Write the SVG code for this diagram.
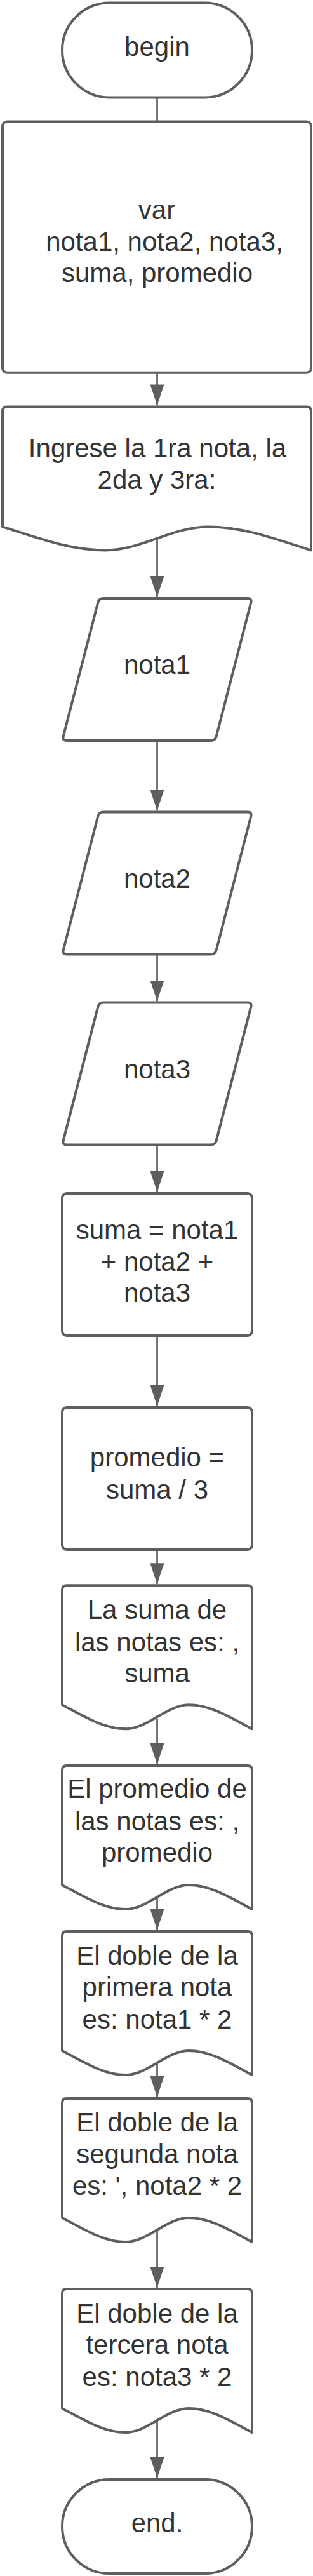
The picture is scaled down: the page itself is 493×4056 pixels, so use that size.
<svg xmlns="http://www.w3.org/2000/svg" width="493" height="4056" viewBox="0 0 493 4056">
<style>
.s{fill:#ffffff;stroke:#5e5e5e;stroke-width:4;stroke-linejoin:round}
.t{font-family:"Liberation Sans",Arial,sans-serif;font-size:42px;fill:#333333;text-anchor:middle}
.c{fill:none;stroke:#5e5e5e;stroke-width:2.7}
</style>
<defs>
<marker id="ah" markerUnits="userSpaceOnUse" markerWidth="33" markerHeight="22" refX="33" refY="11" orient="auto" viewBox="0 0 33 22">
<path d="M0,0 L33,11 L0,22 Z" fill="#5e5e5e"/>
</marker>
<path id="para" d="M163,0 L390,0 Q397,0 395.25,6.78 L340.75,217.22 Q339,224 332,224 L105,224 Q98,224 99.75,217.22 L154.25,6.78 Q156,0 163,0 Z"/>
<path id="doc" d="M0,188 L0,7 Q0,0 7,0 L292,0 Q299,0 299,7 L299,226 C263.1,207 233.2,188 199.3,188 C164.5,188 134.6,226 99.7,226 C65.8,226 35.9,207 0,188 Z"/>
</defs>

<g id="connectors">
<line class="c" x1="247.5" y1="153.5" x2="247.5" y2="191.5"/>
<line class="c" x1="247.5" y1="586.7" x2="247.5" y2="638.4" marker-end="url(#ah)"/>
<line class="c" x1="247.5" y1="847.5" x2="247.5" y2="940" marker-end="url(#ah)"/>
<line class="c" x1="247.5" y1="1166" x2="247.5" y2="1276.5" marker-end="url(#ah)"/>
<line class="c" x1="247.5" y1="1502" x2="247.5" y2="1576.5" marker-end="url(#ah)"/>
<line class="c" x1="247.5" y1="1802" x2="247.5" y2="1877" marker-end="url(#ah)"/>
<line class="c" x1="247.5" y1="2103" x2="247.5" y2="2214" marker-end="url(#ah)"/>
<line class="c" x1="247.5" y1="2440" x2="247.5" y2="2494.3" marker-end="url(#ah)"/>
<line class="c" x1="247.5" y1="2706" x2="247.5" y2="2778" marker-end="url(#ah)"/>
<line class="c" x1="247.5" y1="2988" x2="247.5" y2="3039" marker-end="url(#ah)"/>
<line class="c" x1="247.5" y1="3249" x2="247.5" y2="3302" marker-end="url(#ah)"/>
<line class="c" x1="247.5" y1="3512" x2="247.5" y2="3602" marker-end="url(#ah)"/>
<line class="c" x1="247.5" y1="3812" x2="247.5" y2="3902" marker-end="url(#ah)"/>
</g>

<g id="begin">
<rect class="s" x="98" y="4.5" width="299" height="149" rx="74.5" ry="74.5"/>
<text class="t" x="247.5" y="88">begin</text>
</g>

<g id="var">
<rect class="s" x="4" y="191.5" width="486" height="395.2" rx="7" ry="7"/>
<text class="t" x="247" y="345">var</text>
<text class="t" x="259" y="395">nota1, nota2, nota3,</text>
<text class="t" x="247.5" y="444">suma, promedio</text>
</g>

<g id="ingrese">
<path class="s" transform="translate(4,640.4)" d="M0,189 L0,7 Q0,0 7,0 L479,0 Q486,0 486,7 L486,226 C427.7,207.5 379.1,189 324,189 C267.3,189 218.7,226 162,226 C106.9,226 58.3,207.5 0,189 Z"/>
<text class="t" x="248" y="720">Ingrese la 1ra nota, la</text>
<text class="t" x="247" y="770">2da y 3ra:</text>
</g>

<g id="nota1">
<use href="#para" class="s" transform="translate(0,942)"/>
<text class="t" x="247.5" y="1061">nota1</text>
</g>

<g id="nota2">
<use href="#para" class="s" transform="translate(0,1278.5)"/>
<text class="t" x="247.5" y="1398">nota2</text>
</g>

<g id="nota3">
<use href="#para" class="s" transform="translate(0,1578.5)"/>
<text class="t" x="247.5" y="1698">nota3</text>
</g>

<g id="suma">
<rect class="s" x="98" y="1879" width="299" height="224" rx="7" ry="7"/>
<text class="t" x="247.5" y="1951">suma = nota1</text>
<text class="t" x="247.5" y="2001">+ nota2 +</text>
<text class="t" x="247.5" y="2050">nota3</text>
</g>

<g id="promedio">
<rect class="s" x="98" y="2216" width="299" height="224" rx="7" ry="7"/>
<text class="t" x="247.5" y="2309">promedio =</text>
<text class="t" x="247.5" y="2360">suma / 3</text>
</g>

<g id="out_suma">
<use href="#doc" class="s" transform="translate(98,2496.3)"/>
<text class="t" x="247.5" y="2549">La suma de</text>
<text class="t" x="247.5" y="2600">las notas es: ,</text>
<text class="t" x="247.5" y="2649">suma</text>
</g>

<g id="out_promedio">
<use href="#doc" class="s" transform="translate(98,2780)"/>
<text class="t" x="247.5" y="2831">El promedio de</text>
<text class="t" x="247.5" y="2882">las notas es: ,</text>
<text class="t" x="247.5" y="2931">promedio</text>
</g>

<g id="out_doble1">
<use href="#doc" class="s" transform="translate(98,3041)"/>
<text class="t" x="247.5" y="3094">El doble de la</text>
<text class="t" x="247.5" y="3143">primera nota</text>
<text class="t" x="247.5" y="3194">es: nota1 * 2</text>
</g>

<g id="out_doble2">
<use href="#doc" class="s" transform="translate(98,3304)"/>
<text class="t" x="247.5" y="3356">El doble de la</text>
<text class="t" x="247.5" y="3406">segunda nota</text>
<text class="t" x="247.5" y="3456">es: ', nota2 * 2</text>
</g>

<g id="out_doble3">
<use href="#doc" class="s" transform="translate(98,3604)"/>
<text class="t" x="247.5" y="3657">El doble de la</text>
<text class="t" x="247.5" y="3706">tercera nota</text>
<text class="t" x="247.5" y="3757">es: nota3 * 2</text>
</g>

<g id="end">
<rect class="s" x="98" y="3904" width="299" height="148" rx="74" ry="74"/>
<text class="t" x="247.5" y="3987">end.</text>
</g>
</svg>
